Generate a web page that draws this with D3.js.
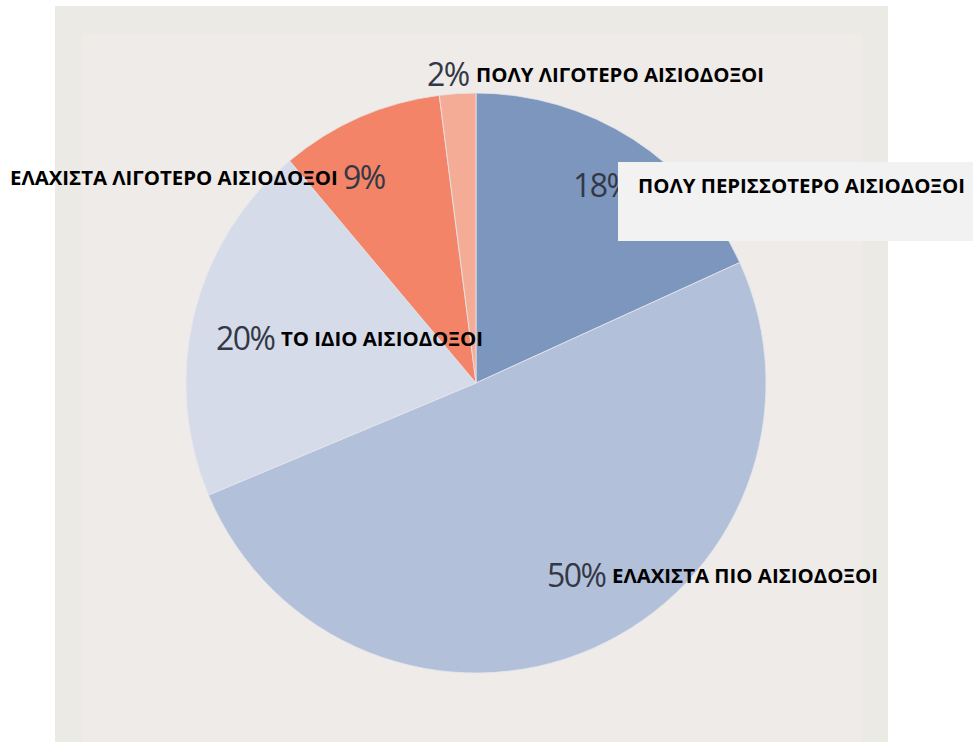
<!DOCTYPE html>
<html>
<head>
<meta charset="utf-8">
<script src="https://cdn.jsdelivr.net/npm/d3@7"></script>
<style>
  body { margin: 0; background: #fff; }
  svg { display: block; }
</style>
</head>
<body>
<div id="chart"></div>
<script>
// data
var categories = ["ΠΟΛΥ ΠΕΡΙΣΣΟΤΕΡΟ ΑΙΣΙΟΔΟΞΟΙ", "ΕΛΑΧΙΣΤΑ ΠΙΟ ΑΙΣΙΟΔΟΞΟΙ", "ΤΟ ΙΔΙΟ ΑΙΣΙΟΔΟΞΟΙ",
                  "ΕΛΑΧΙΣΤΑ ΛΙΓΟΤΕΡΟ ΑΙΣΙΟΔΟΞΟΙ", "ΠΟΛΥ ΛΙΓΟΤΕΡΟ ΑΙΣΙΟΔΟΞΟΙ"];
var values = [18, 50, 20, 9, 2];
var colors = ["#7c96be", "#b3c0da", "#d6dbe9", "#f38468", "#f5ac96"];

var width = 973, height = 742,
    cx = 476, cy = 383, radius = 290;

// where each label sits, relative to the pie centre (pct x, name x, baseline y)
var labelPos = [
  {px: 97,   nx: 162,  y: -190},
  {px: 71,   nx: 136,  y: 200},
  {px: -260, nx: -195, y: -37},
  {px: -133, nx: -466, y: -198},
  {px: -49,  nx: 0,    y: -301}
];

var svg = d3.select("#chart")
  .append("svg")
    .attr("width", width)
    .attr("height", height);

// grey paper background
svg.append("rect")
    .attr("x", 55).attr("y", 6)
    .attr("width", 833).attr("height", height - 6)
    .attr("fill", "#ebeae5");
svg.append("rect")
    .attr("x", 82).attr("y", 34)
    .attr("width", 780).attr("height", height - 34)
    .attr("fill", "#efebe8");

var pie = d3.pie().sort(null).value(function(d) { return d; });
var arc = d3.arc().innerRadius(0).outerRadius(radius);

var g = svg.append("g")
    .attr("transform", "translate(" + cx + "," + cy + ")");

g.selectAll("path")
  .data(pie(values))
  .enter()
  .append("path")
    .attr("d", arc)
    .attr("fill", function(d, i) { return colors[i]; })
    .attr("stroke", "#e4e6ee")
    .attr("stroke-width", 0.8);

// percentage numbers
g.selectAll("text.pct")
  .data(values)
  .enter()
  .append("text")
    .attr("class", "pct")
    .attr("x", function(d, i) { return labelPos[i].px; })
    .attr("y", function(d, i) { return labelPos[i].y + 4; })
    .style("font-family", "'Open Sans', sans-serif")
    .style("font-size", "32px")
    .style("letter-spacing", "-1.5px")
    .attr("fill", "#333846")
    .text(function(d) { return d + "%"; });

// grey box that sits over the 18% label
svg.append("rect")
    .attr("x", 618).attr("y", 162)
    .attr("width", 355).attr("height", 79)
    .attr("fill", "#f2f2f2");

// category names, on top of the box
var names = svg.append("g")
    .attr("transform", "translate(" + cx + "," + cy + ")");

names.selectAll("text.name")
  .data(categories)
  .enter()
  .append("text")
    .attr("class", "name")
    .attr("x", function(d, i) { return labelPos[i].nx; })
    .attr("y", function(d, i) { return labelPos[i].y; })
    .style("font-family", "'Open Sans', sans-serif")
    .style("font-weight", "bold")
    .style("font-size", "20.4px")
    .attr("fill", "#000")
    .text(function(d) { return d; });
</script>
</body>
</html>
